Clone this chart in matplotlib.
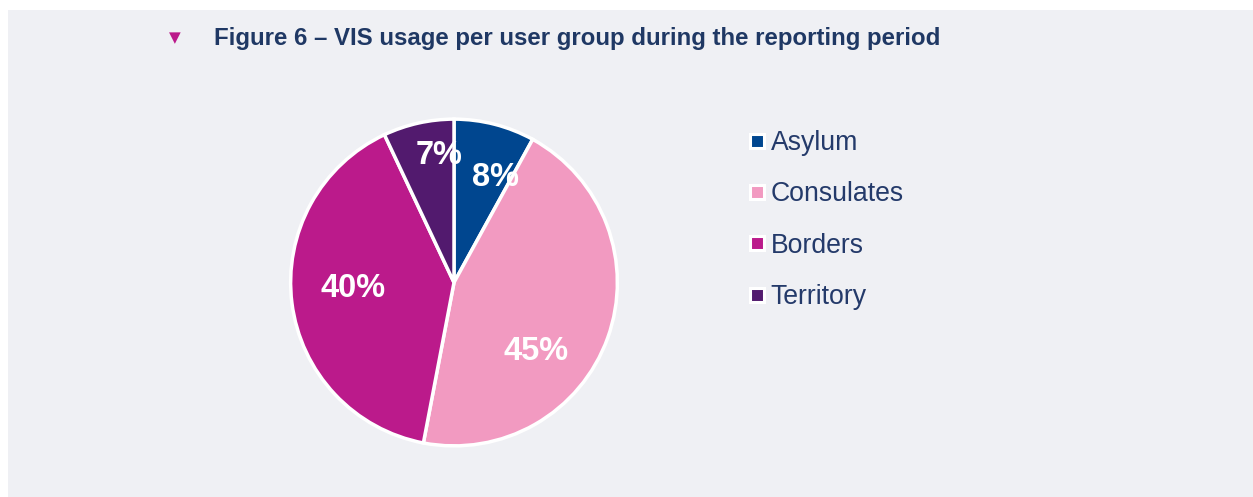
import matplotlib
matplotlib.use("Agg")
import matplotlib.pyplot as plt
from matplotlib.patches import Rectangle
from matplotlib.lines import Line2D

plt.rcParams['font.family'] = ['Liberation Sans', 'DejaVu Sans']

categories = ["Asylum", "Consulates", "Borders", "Territory"]
shares = [8, 45, 40, 7]
pct_labels = ["8%", "45%", "40%", "7%"]
colors = ["#00468f", "#f29ac1", "#bb1a8b", "#521a6e"]
title = "Figure 6 \u2013 VIS usage per user group during the reporting period"

# label positions as fraction of radius (x, y) relative to centre
label_xy = [(0.255, 0.64), (0.50, -0.42), (-0.62, -0.035), (-0.09, 0.775)]

W, H = 1253, 497
fig = plt.figure(figsize=(W / 100, H / 100), dpi=100)
fig.patch.set_facecolor("white")
fig.patches.append(Rectangle((8 / W, 0), 1 - 8 / W, (H - 10) / H,
                             transform=fig.transFigure, facecolor="#eff0f4",
                             edgecolor="none", zorder=-5))

navy = "#1f3864"
fig.text(175 / W, 1 - 38 / H, "\u25BC", color="#bb1a8b", fontsize=11,
         ha="center", va="center", family=["DejaVu Sans"])
fig.text(214 / W, 1 - 38.5 / H, title, color=navy, fontsize=17.3,
         fontweight="bold", ha="left", va="center")

cx, cy, r = 454, 282.5, 165
ax = fig.add_axes([(cx - r) / W, (H - cy - r) / H, 2 * r / W, 2 * r / H])
ax.set_zorder(2)
wedges, _ = ax.pie(shares, colors=colors, startangle=90, counterclock=False,
                   radius=1.0,
                   wedgeprops=dict(edgecolor="white", linewidth=2.5))
for (x, y), t in zip(label_xy, pct_labels):
    ax.text(x, y, t, color="white", fontsize=23.5, fontweight="bold",
            ha="center", va="center")
ax.set_xlim(-1.01, 1.01)
ax.set_ylim(-1.01, 1.01)
ax.set_aspect("equal")
ax.axis("off")

handles = [Line2D([], [], linestyle="none", marker="s", markersize=9.7,
                  markerfacecolor=c, markeredgecolor="white",
                  markeredgewidth=2.2) for c in colors]
leg = fig.legend(handles, categories, loc="upper left",
                 bbox_to_anchor=(749 / W, 1 - 130 / H), frameon=False,
                 fontsize=19.2, labelcolor="#243a6a", handlelength=0.6,
                 handletextpad=0.22, labelspacing=0.95, borderpad=0,
                 borderaxespad=0)

fig.savefig("out.png", dpi=100, facecolor=fig.get_facecolor())
